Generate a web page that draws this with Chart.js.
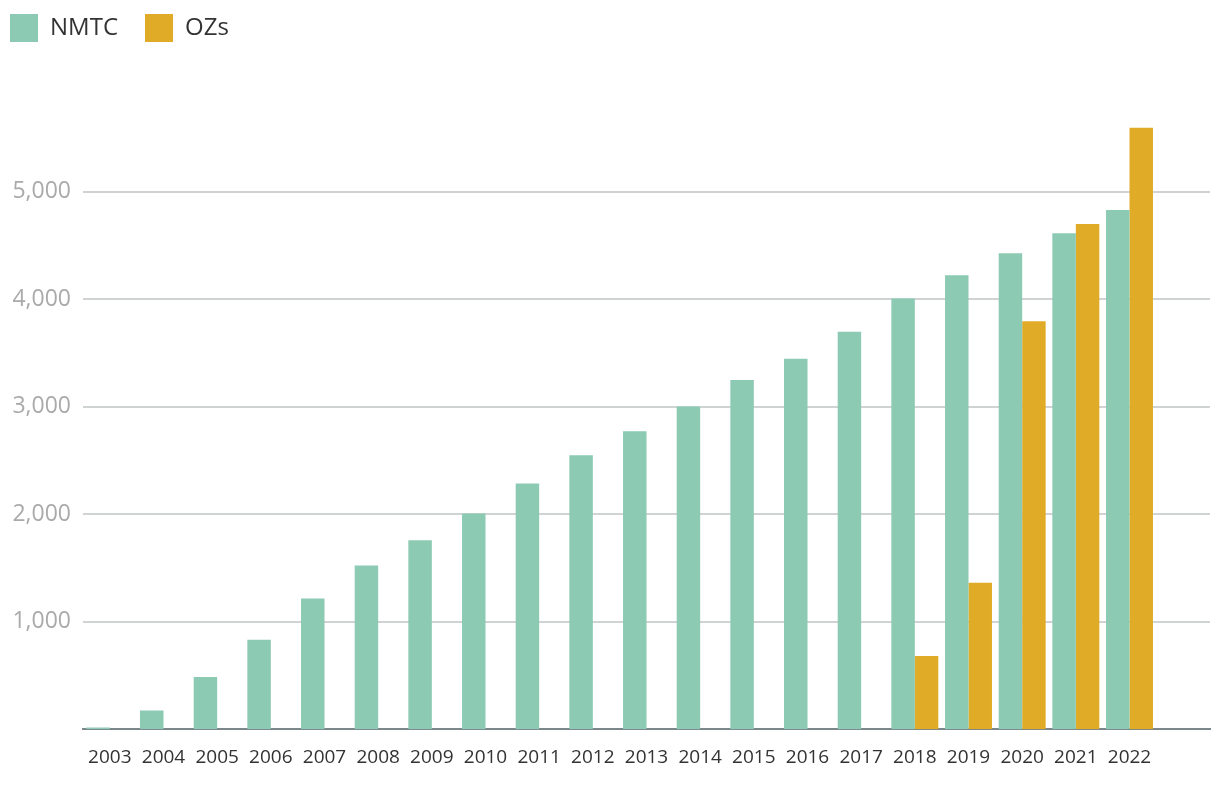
<!DOCTYPE html>
<html>
<head>
<meta charset="utf-8">
<script src="https://cdn.jsdelivr.net/npm/chart.js@4/dist/chart.umd.min.js"></script>
<style>
  html, body { margin: 0; padding: 0; background: #fff; }
  #wrap { position: relative; width: 1220px; height: 792px; }
</style>
</head>
<body>
<div id="wrap"><canvas id="c"></canvas></div>
<script>
const years = ['2003','2004','2005','2006','2007','2008','2009','2010','2011','2012',
               '2013','2014','2015','2016','2017','2018','2019','2020','2021','2022'];
const nmtc = [16, 175, 486, 832, 1215, 1523, 1757, 2005, 2285, 2548,
              2771, 3000, 3248, 3444, 3696, 4005, 4222, 4427, 4613, 4828];
const ozs  = [null, null, null, null, null, null, null, null, null, null,
              null, null, null, null, null, 680, 1361, 3793, 4697, 5592];
const yTicks = [1000, 2000, 3000, 4000, 5000];

const labels = years.concat(['']);

const legendShift = {
  id: 'legendShift',
  afterLayout(chart) {
    const lg = chart.legend;
    if (lg) { lg.left = -17; lg.top = -13; }
  }
};

new Chart(document.getElementById('c'), {
  type: 'bar',
  data: {
    labels: labels,
    datasets: [
      { label: 'NMTC', data: nmtc, backgroundColor: '#8ccab3', borderWidth: 0 },
      { label: 'OZs', data: ozs, backgroundColor: '#e0ac28', borderWidth: 0 }
    ]
  },
  plugins: [legendShift],
  options: {
    responsive: true,
    maintainAspectRatio: false,
    animation: false,
    devicePixelRatio: 1,
    layout: { padding: { top: 62, right: 10, bottom: 6, left: 0 } },
    datasets: { bar: { categoryPercentage: 0.875, barPercentage: 1.0 } },
    plugins: {
      tooltip: { enabled: false },
      legend: {
        position: 'top',
        align: 'start',
        labels: {
          boxWidth: 28, boxHeight: 28, padding: 27,
          color: '#333333',
          font: { family: "'Open Sans'", size: 24 }
        }
      }
    },
    scales: {
      x: {
        grid: { display: false, drawTicks: false },
        border: { display: true, color: '#7b878b', width: 2 },
        ticks: {
          color: '#333333', padding: 17, maxRotation: 0, autoSkip: false,
          font: { family: "'Open Sans'", size: 19 }
        }
      },
      y: {
        min: 0, max: 5600,
        afterBuildTicks(scale) {
          scale.ticks = yTicks.map(v => ({ value: v }));
        },
        afterFit(scale) { scale.width = 83; },
        grid: { color: '#cfd3d3', lineWidth: 2, drawTicks: false },
        border: { display: false },
        ticks: {
          color: '#aaaaaa', padding: 12,
          font: { family: "'Open Sans'", size: 23 },
          callback: v => v.toLocaleString('en-US')
        }
      }
    }
  }
});
</script>
</body>
</html>
